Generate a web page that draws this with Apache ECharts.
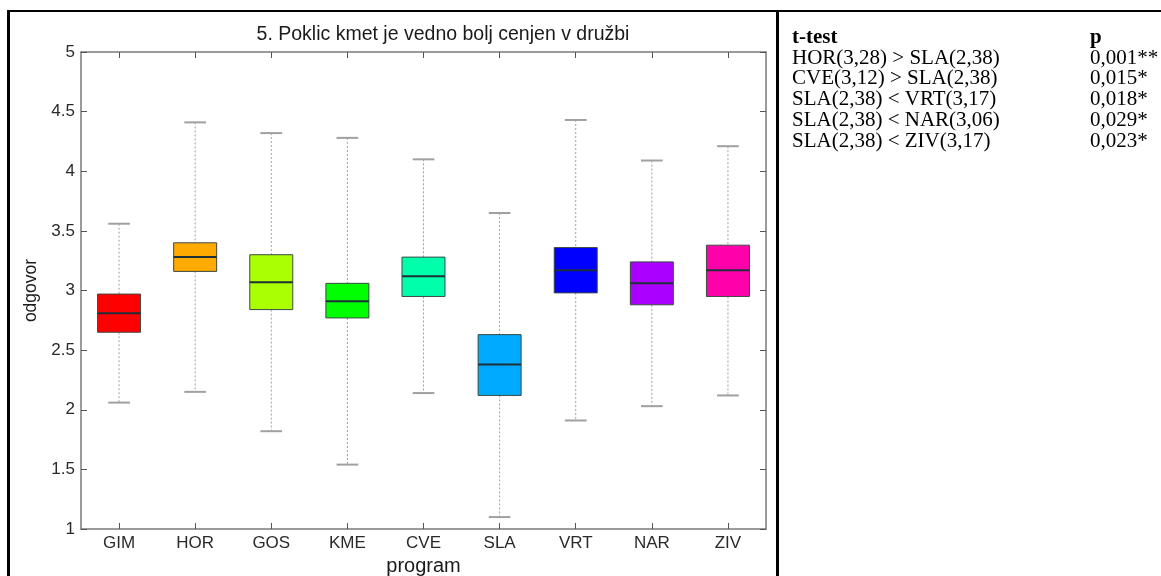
<!DOCTYPE html>
<html>
<head>
<meta charset="utf-8">
<script src="https://cdn.jsdelivr.net/npm/echarts@6/dist/echarts.min.js"></script>
<style>
  html, body { margin: 0; padding: 0; background: #ffffff; }
  #chart { width: 1161px; height: 576px; }
</style>
</head>
<body>
<div id="chart"></div>
<script>
// ---- data ----
const categories = ['GIM', 'HOR', 'GOS', 'KME', 'CVE', 'SLA', 'VRT', 'NAR', 'ZIV'];
const lowWhisker  = [2.06, 2.15, 1.82, 1.54, 2.14, 1.10, 1.91, 2.03, 2.12];
const q1Values    = [2.65, 3.16, 2.84, 2.77, 2.95, 2.12, 2.98, 2.88, 2.95];
const medianVals  = [2.81, 3.28, 3.07, 2.91, 3.12, 2.38, 3.17, 3.06, 3.17];
const q3Values    = [2.97, 3.40, 3.30, 3.06, 3.28, 2.63, 3.36, 3.24, 3.38];
const highWhisker = [3.56, 4.41, 4.32, 4.28, 4.10, 3.65, 4.43, 4.09, 4.21];
const yTicks = { min: 1, max: 5, step: 0.5 };

const chartTitle = '5. Poklic kmet je vedno bolj cenjen v družbi';
const yName = 'odgovor';
const xName = 'program';

const tableHeader = ['t-test', 'p'];
const tTests  = ['HOR(3,28) > SLA(2,38)', 'CVE(3,12) > SLA(2,38)', 'SLA(2,38) < VRT(3,17)', 'SLA(2,38) < NAR(3,06)', 'SLA(2,38) < ZIV(3,17)'];
const pValues = ['0,001**', '0,015*', '0,018*', '0,029*', '0,023*'];

const boxColors = ['#ff0000', '#ffaa00', '#aaff00', '#00ff00', '#00ffaa', '#00aaff', '#0000ff', '#aa00ff', '#ff00aa'];

// ---- build ----
const boxData = categories.map((c, i) => [i, lowWhisker[i], q1Values[i], medianVals[i], q3Values[i], highWhisker[i]]);

function renderBox(params, api) {
  const i = api.value(0);
  const pLow = api.coord([i, api.value(1)]);
  const pQ1 = api.coord([i, api.value(2)]);
  const pMed = api.coord([i, api.value(3)]);
  const pQ3 = api.coord([i, api.value(4)]);
  const pHigh = api.coord([i, api.value(5)]);
  const band = api.size([1, 0])[0];
  const bw = band * 0.565;
  const cw = band * 0.285;
  const cx = pMed[0];
  const whiskerStyle = { stroke: '#a0a0a0', lineWidth: 1, lineDash: [2, 2] };
  const capStyle = { stroke: '#a0a0a0', lineWidth: 2 };
  return {
    type: 'group',
    children: [
      { type: 'line', shape: { x1: cx, y1: pHigh[1], x2: cx, y2: pQ3[1] }, style: whiskerStyle },
      { type: 'line', shape: { x1: cx, y1: pQ1[1], x2: cx, y2: pLow[1] }, style: whiskerStyle },
      { type: 'line', shape: { x1: cx - cw / 2, y1: pHigh[1], x2: cx + cw / 2, y2: pHigh[1] }, style: capStyle },
      { type: 'line', shape: { x1: cx - cw / 2, y1: pLow[1], x2: cx + cw / 2, y2: pLow[1] }, style: capStyle },
      { type: 'rect', shape: { x: cx - bw / 2, y: pQ3[1], width: bw, height: pQ1[1] - pQ3[1] },
        style: { fill: boxColors[i], stroke: '#3c4a44', lineWidth: 1 } },
      { type: 'line', shape: { x1: cx - bw / 2, y1: pMed[1], x2: cx + bw / 2, y2: pMed[1] },
        style: { stroke: '#1f2f38', lineWidth: 2 } }
    ]
  };
}

const sansFont = '"Liberation Sans", Arial, Helvetica, sans-serif';
const serifFont = '"Liberation Serif", "Times New Roman", serif';
const frameColor = '#7a7a7a';
const tickStyle = { color: '#555555', width: 1 };

const graphics = [
  { type: 'line', shape: { x1: 7, y1: 11, x2: 1161, y2: 11 }, style: { stroke: '#000', lineWidth: 2 } },
  { type: 'line', shape: { x1: 8.5, y1: 10, x2: 8.5, y2: 576 }, style: { stroke: '#000', lineWidth: 3 } },
  { type: 'line', shape: { x1: 777.5, y1: 10, x2: 777.5, y2: 576 }, style: { stroke: '#000', lineWidth: 3 } }
];
const tableX = 792, pX = 1090, rowY0 = 37.5, rowStep = 20.7;
graphics.push({ type: 'text', x: tableX, y: rowY0,
  style: { text: tableHeader[0], font: 'bold 21px ' + serifFont, fill: '#000', verticalAlign: 'middle' } });
graphics.push({ type: 'text', x: pX, y: rowY0,
  style: { text: tableHeader[1], font: 'bold 21px ' + serifFont, fill: '#000', verticalAlign: 'middle' } });
tTests.forEach((t, i) => {
  const y = rowY0 + rowStep * (i + 1);
  graphics.push({ type: 'text', x: tableX, y: y,
    style: { text: t, font: '21px ' + serifFont, fill: '#000', verticalAlign: 'middle' } });
  graphics.push({ type: 'text', x: pX, y: y,
    style: { text: pValues[i], font: '21px ' + serifFont, fill: '#000', verticalAlign: 'middle' } });
});

const option = {
  backgroundColor: '#ffffff',
  animation: false,
  title: {
    text: chartTitle,
    left: 438, textAlign: 'center', top: 20,
    textStyle: { fontFamily: sansFont, fontSize: 19.5, fontWeight: 'normal', color: '#1a1a1a' }
  },
  grid: { left: 81, right: 395, top: 52, bottom: 47, containLabel: false, outerBoundsMode: 'none' },
  xAxis: [
    {
      type: 'category', data: categories, position: 'bottom', boundaryGap: true,
      name: xName, nameLocation: 'middle', nameGap: 25,
      nameTextStyle: { fontFamily: sansFont, fontSize: 20, color: '#1a1a1a' },
      axisLine: { show: true, lineStyle: { color: frameColor, width: 1.5 } },
      axisTick: { show: true, inside: true, alignWithLabel: true, length: 6, lineStyle: tickStyle },
      axisLabel: { fontFamily: sansFont, fontSize: 17, color: '#2a2a2a', margin: 6 },
      splitLine: { show: false }
    },
    {
      type: 'category', data: categories, position: 'top', boundaryGap: true,
      axisLine: { show: true, lineStyle: { color: frameColor, width: 1.5 } },
      axisTick: { show: true, inside: true, alignWithLabel: true, length: 6, lineStyle: tickStyle },
      axisLabel: { show: false },
      splitLine: { show: false }
    }
  ],
  yAxis: [
    {
      type: 'value', min: yTicks.min, max: yTicks.max, interval: yTicks.step, position: 'left',
      name: yName, nameLocation: 'middle', nameGap: 36, nameRotate: 90,
      nameTextStyle: { fontFamily: sansFont, fontSize: 17.5, color: '#1a1a1a' },
      axisLine: { show: true, lineStyle: { color: frameColor, width: 1.5 } },
      axisTick: { show: true, inside: true, length: 6, lineStyle: tickStyle },
      axisLabel: { fontFamily: sansFont, fontSize: 17, color: '#2a2a2a', margin: 6 },
      splitLine: { show: false }
    },
    {
      type: 'value', min: yTicks.min, max: yTicks.max, interval: yTicks.step, position: 'right',
      axisLine: { show: true, lineStyle: { color: frameColor, width: 1.5 } },
      axisTick: { show: true, inside: true, length: 6, lineStyle: tickStyle },
      axisLabel: { show: false },
      splitLine: { show: false }
    }
  ],
  series: [{
    type: 'custom',
    renderItem: renderBox,
    xAxisIndex: 0, yAxisIndex: 0,
    encode: { x: 0, y: [1, 2, 3, 4, 5] },
    data: boxData,
    clip: false
  }],
  graphic: graphics
};

const chart = echarts.init(document.getElementById('chart'), null, { renderer: 'canvas' });
chart.setOption(option);
</script>
</body>
</html>
